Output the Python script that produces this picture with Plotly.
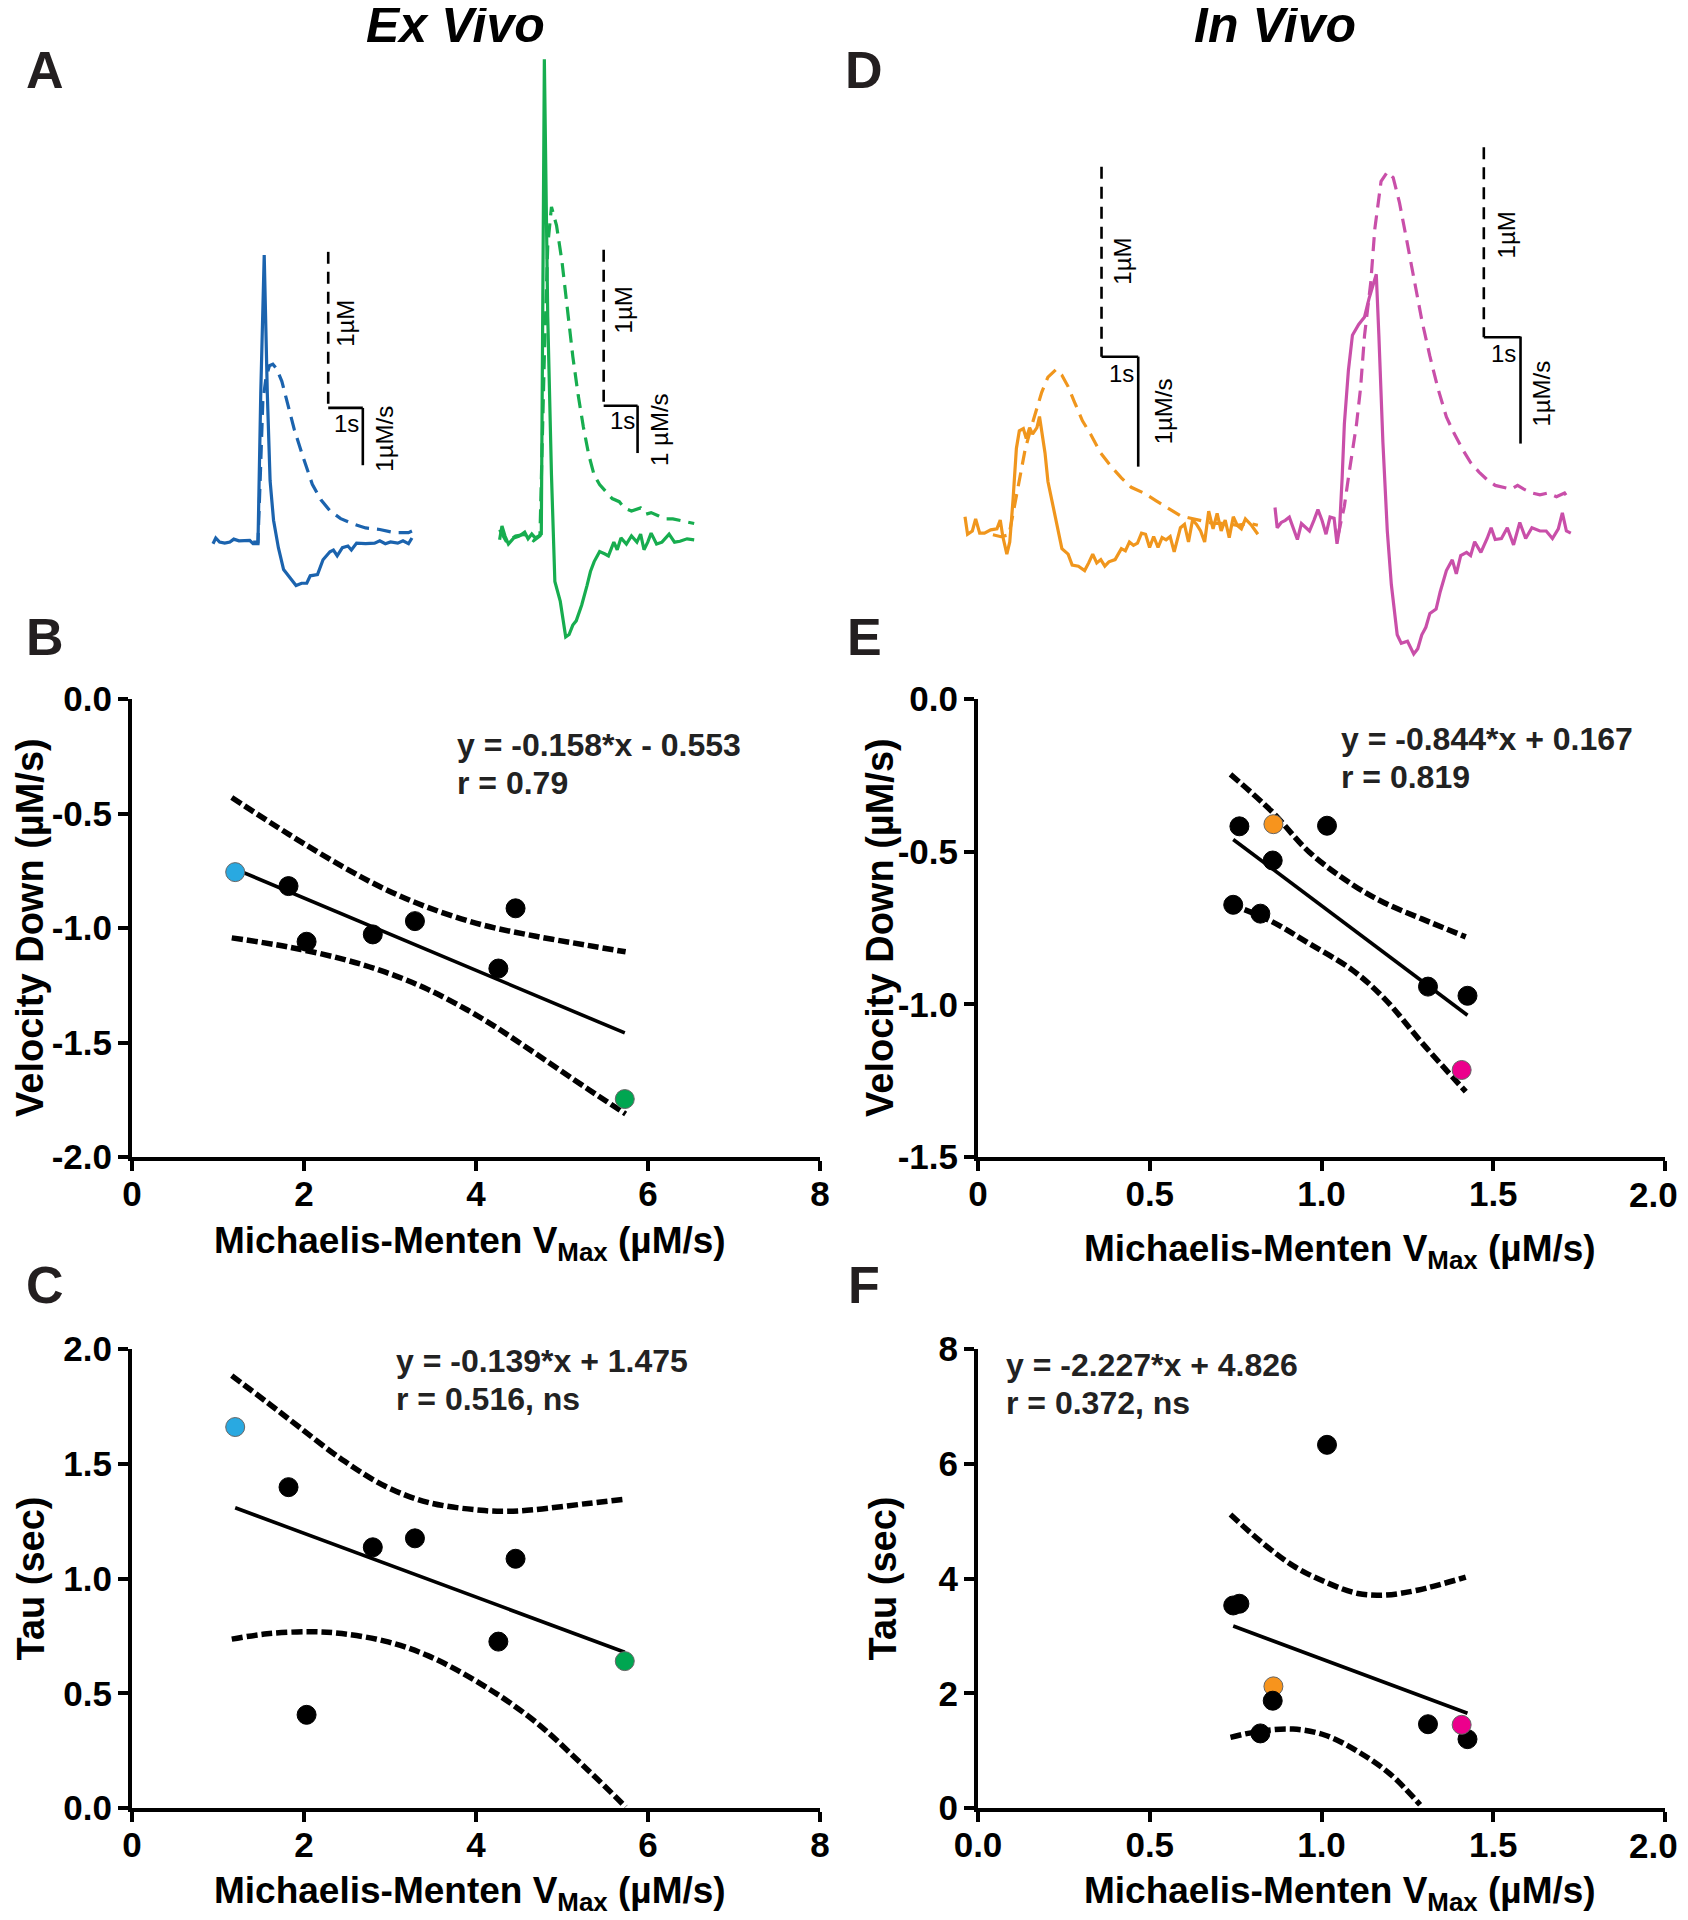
import plotly.graph_objects as go

W, H = 1688, 1920
OFF = 8  # the page places the figure 8 px in from the top-left corner
VIS_RIGHT = 1680  # right-most visible page pixel


def PX(x):
    return (x - OFF) / W


def PY(y):
    return 1 - (y - OFF) / H


# ======================= DATA =======================
# Ex vivo scatter (panels B, C)
exvivo_vmax = [1.20, 1.82, 2.03, 2.80, 3.29, 4.46, 4.26, 5.73]
exvivo_vdown = [-0.756, -0.817, -1.060, -1.028, -0.970, -0.914, -1.177, -1.747]
exvivo_tau = [1.660, 1.398, 0.406, 1.136, 1.175, 1.086, 0.725, 0.640]

# In vivo scatter (panels E, F)
invivo_vmax = [0.761, 0.860, 1.016, 0.858, 0.743, 0.822, 1.310, 1.425, 1.408]
invivo_vdown = [-0.417, -0.410, -0.415, -0.529, -0.674, -0.703, -0.942, -0.972, -1.215]
invivo_tau = [3.56, 2.12, 6.33, 1.87, 3.53, 1.30, 1.46, 1.20, 1.45]

# fits: slope, intercept, r, suffix
fit_B = (-0.158, -0.553, "0.79", "")
fit_C = (-0.139, 1.475, "0.516", ", ns")
fit_E = (-0.844, 0.167, "0.819", "")
fit_F = (-2.227, 4.826, "0.372", ", ns")

# 95% confidence bands
band_B_x = [1.16, 1.82, 2.44, 2.94, 3.44, 4.06, 4.68, 5.30, 5.74]
band_B_hi = [-0.430, -0.590, -0.730, -0.830, -0.910, -0.985, -1.035, -1.076, -1.104]
band_B_lo = [-1.043, -1.083, -1.135, -1.192, -1.268, -1.393, -1.545, -1.703, -1.812]

band_C_hi_x = [1.16, 1.57, 1.94, 2.44, 2.94, 3.44, 4.06, 4.37, 4.68, 5.30, 5.74]
band_C_hi = [1.884, 1.768, 1.661, 1.519, 1.403, 1.332, 1.297, 1.293, 1.300, 1.327, 1.346]
band_C_lo_x = [1.16, 1.57, 2.07, 2.44, 2.94, 3.44, 4.06, 4.68, 5.30, 5.74]
band_C_lo = [0.736, 0.759, 0.768, 0.760, 0.727, 0.664, 0.540, 0.379, 0.166, 0.005]

band_E_x = [0.735, 0.854, 0.964, 1.090, 1.184, 1.294, 1.420]
band_E_hi = [-0.247, -0.367, -0.501, -0.608, -0.668, -0.721, -0.779]
band_E_lo = [-0.672, -0.728, -0.801, -0.888, -0.982, -1.128, -1.286]

band_F_hi_x = [0.735, 0.822, 0.917, 1.011, 1.106, 1.184, 1.279, 1.420]
band_F_hi = [5.114, 4.651, 4.224, 3.939, 3.739, 3.711, 3.796, 4.024]
band_F_lo_x = [0.735, 0.822, 0.917, 1.011, 1.106, 1.200, 1.287]
band_F_lo = [1.232, 1.339, 1.375, 1.268, 0.983, 0.591, 0.057]

# tick labels
ticks_x_exvivo = [0, 2, 4, 6, 8]
ticks_x_exvivo_txt = ["0", "2", "4", "6", "8"]
ticks_x_E = [0, 0.5, 1.0, 1.5, 2.0]
ticks_x_E_txt = ["0", "0.5", "1.0", "1.5", "2.0"]
ticks_x_F_txt = ["0.0", "0.5", "1.0", "1.5", "2.0"]
ticks_y_B = [0.0, -0.5, -1.0, -1.5, -2.0]
ticks_y_B_txt = ["0.0", "-0.5", "-1.0", "-1.5", "-2.0"]
ticks_y_E = [0.0, -0.5, -1.0, -1.5]
ticks_y_E_txt = ["0.0", "-0.5", "-1.0", "-1.5"]
ticks_y_C = [0.0, 0.5, 1.0, 1.5, 2.0]
ticks_y_C_txt = ["0.0", "0.5", "1.0", "1.5", "2.0"]
ticks_y_F = [0, 2, 4, 6, 8]
ticks_y_F_txt = ["0", "2", "4", "6", "8"]

# ---- example traces: time (s), velocity (uM/s, solid), concentration (uM, dashed)
blue_t = [0.00, 0.08, 0.19, 0.34, 0.49, 0.60, 0.75, 0.91, 1.06, 1.16, 1.30, 1.38, 1.48, 1.57, 1.65,
          1.75, 1.89, 2.04, 2.20, 2.40, 2.56, 2.71, 2.81, 3.02, 3.18, 3.38, 3.48, 3.59, 3.74, 3.90,
          4.00, 4.15, 4.41, 4.67, 4.82, 4.98, 5.13, 5.34, 5.49, 5.65, 5.75]
blue_v = [-0.03, 0.07, 0.00, -0.02, 0.00, 0.05, 0.02, 0.02, 0.03, -0.03, -0.03, 2.59, 5.01, 2.59, 1.07,
          0.38, -0.10, -0.48, -0.60, -0.76, -0.72, -0.72, -0.59, -0.57, -0.31, -0.17, -0.14, -0.24, -0.10, -0.07,
          -0.14, -0.02, -0.03, -0.02, 0.02, -0.03, 0.00, -0.02, 0.02, -0.03, 0.07]
blue_ct = [1.16, 1.30, 1.37, 1.44, 1.53, 1.63, 1.73, 1.84, 1.99, 2.14, 2.35, 2.61, 2.87, 3.12, 3.38,
           3.69, 4.00, 4.41, 4.82, 5.24, 5.65, 5.75]
blue_c = [0.00, 0.00, 0.44, 0.90, 1.05, 1.13, 1.14, 1.11, 1.03, 0.90, 0.72, 0.54, 0.37, 0.27, 0.20,
          0.15, 0.12, 0.09, 0.08, 0.06, 0.06, 0.07]

green_t = [0.00, 0.07, 0.16, 0.26, 0.42, 0.58, 0.74, 0.84, 0.95, 1.05, 1.16, 1.23, 1.32, 1.42, 1.53,
           1.63, 1.79, 1.95, 2.05, 2.16, 2.26, 2.42, 2.58, 2.68, 2.79, 2.95, 3.11, 3.21, 3.37, 3.47,
           3.58, 3.74, 3.89, 4.05, 4.16, 4.26, 4.37, 4.47, 4.63, 4.79, 5.00, 5.16, 5.32, 5.53, 5.74]
green_v = [-0.08, 0.21, 0.00, -0.17, -0.04, 0.00, 0.08, -0.06, 0.04, -0.04, 0.00, 0.04, 10.06, 4.63, 1.29,
           -0.96, -1.38, -2.13, -2.08, -1.88, -1.79, -1.46, -1.04, -0.75, -0.54, -0.33, -0.38, -0.42, -0.13, -0.29,
           -0.04, -0.17, 0.00, -0.13, 0.04, -0.29, -0.13, 0.06, -0.17, -0.13, 0.04, -0.13, -0.11, -0.06, -0.08]
green_ct = [0.00, 0.21, 0.47, 0.74, 1.00, 1.19, 1.32, 1.42, 1.53, 1.68, 1.84, 2.00, 2.16, 2.32, 2.47,
            2.63, 2.79, 2.95, 3.11, 3.32, 3.53, 3.68, 3.89, 4.16, 4.32, 4.47, 4.68, 4.89, 5.11, 5.32,
            5.53, 5.74]
green_c = [0.04, -0.04, 0.00, 0.01, -0.03, 0.00, 1.15, 1.86, 2.11, 1.99, 1.76, 1.46, 1.15, 0.90, 0.70,
           0.52, 0.39, 0.33, 0.29, 0.24, 0.22, 0.18, 0.16, 0.18, 0.14, 0.15, 0.13, 0.11, 0.11, 0.10,
           0.09, 0.08]

orange_t = [0.00, 0.07, 0.20, 0.29, 0.40, 0.53, 0.70, 0.87, 0.96, 1.03, 1.14, 1.22, 1.31, 1.40, 1.48,
            1.59, 1.67, 1.76, 1.84, 1.96, 2.03, 2.09, 2.18, 2.26, 2.42, 2.64, 2.81, 2.92, 3.09, 3.26,
            3.37, 3.48, 3.59, 3.70, 3.81, 3.92, 4.09, 4.26, 4.37, 4.48, 4.59, 4.70, 4.81, 4.92, 5.03,
            5.14, 5.26, 5.37, 5.48, 5.59, 5.70, 5.87, 5.98, 6.09, 6.20, 6.31, 6.42, 6.53, 6.64, 6.76,
            6.87, 6.98, 7.09, 7.20, 7.31, 7.42, 7.53, 7.64, 7.81, 7.98]
orange_v = [0.13, -0.03, 0.00, 0.11, -0.02, -0.02, 0.01, 0.02, 0.10, -0.05, -0.21, -0.10, 0.29, 0.75, 0.91,
            0.93, 0.84, 0.94, 0.88, 0.94, 1.04, 0.91, 0.71, 0.45, 0.19, -0.16, -0.21, -0.31, -0.32, -0.36,
            -0.29, -0.21, -0.29, -0.26, -0.32, -0.28, -0.26, -0.16, -0.18, -0.10, -0.13, -0.11, -0.02, -0.03, -0.15,
            -0.05, -0.15, -0.06, -0.08, -0.05, -0.19, 0.03, 0.06, -0.10, 0.10, 0.06, 0.00, -0.10, 0.18, 0.02,
            0.16, 0.00, 0.10, -0.06, 0.13, 0.05, 0.02, 0.11, 0.05, -0.03]
orange_ct = [0.76, 0.98, 1.20, 1.31, 1.48, 1.64, 1.81, 1.98, 2.09, 2.26, 2.48, 2.64, 2.81, 2.98, 3.20,
             3.42, 3.70, 3.98, 4.26, 4.53, 4.87, 5.20, 5.53, 5.87, 6.09, 6.31, 6.53, 6.76, 7.09, 7.42,
             7.76, 7.98]
orange_c = [-0.02, -0.03, -0.02, 0.09, 0.28, 0.43, 0.55, 0.66, 0.73, 0.81, 0.85, 0.82, 0.76, 0.68, 0.58,
            0.51, 0.41, 0.34, 0.28, 0.23, 0.20, 0.16, 0.12, 0.08, 0.07, 0.06, 0.05, 0.04, 0.04, 0.03,
            0.04, 0.03]

magenta_t = [0.00, 0.06, 0.17, 0.28, 0.39, 0.50, 0.61, 0.72, 0.83, 0.94, 1.06, 1.17, 1.28, 1.39, 1.50,
             1.61, 1.69, 1.76, 1.83, 1.89, 2.00, 2.11, 2.28, 2.44, 2.56, 2.67, 2.76, 2.83, 2.94, 3.06,
             3.17, 3.33, 3.44, 3.61, 3.78, 3.89, 4.00, 4.11, 4.22, 4.39, 4.50, 4.67, 4.83, 4.94, 5.06,
             5.22, 5.33, 5.44, 5.61, 5.78, 5.89, 6.00, 6.17, 6.33, 6.50, 6.67, 6.83, 7.00, 7.22, 7.39,
             7.56, 7.72, 7.83, 7.94, 8.06]
magenta_v = [0.22, 0.03, 0.08, 0.10, 0.13, 0.03, -0.08, 0.07, 0.03, 0.00, 0.10, 0.20, 0.10, -0.03, 0.13,
             0.12, -0.12, 0.03, 0.50, 1.00, 1.50, 1.83, 1.93, 2.00, 2.17, 2.30, 2.40, 1.83, 0.83, 0.00,
             -0.50, -0.97, -1.05, -1.03, -1.15, -1.10, -0.97, -0.90, -0.77, -0.73, -0.57, -0.37, -0.27, -0.40, -0.23,
             -0.20, -0.23, -0.10, -0.20, -0.07, 0.03, -0.08, -0.07, 0.03, -0.13, 0.08, -0.07, 0.03, 0.00, 0.00,
             -0.07, 0.02, 0.17, 0.00, -0.02]
magenta_ct = [1.72, 1.89, 2.00, 2.11, 2.22, 2.33, 2.44, 2.61, 2.72, 2.89, 3.06, 3.22, 3.39, 3.56, 3.78,
              4.00, 4.22, 4.44, 4.67, 4.89, 5.11, 5.33, 5.56, 5.78, 6.00, 6.22, 6.44, 6.61, 6.78, 7.00,
              7.22, 7.44, 7.67, 7.89, 8.00]
magenta_c = [-0.02, 0.13, 0.28, 0.41, 0.56, 0.75, 1.03, 1.31, 1.59, 1.84, 1.89, 1.86, 1.73, 1.56, 1.33,
             1.11, 0.92, 0.75, 0.60, 0.51, 0.43, 0.36, 0.31, 0.27, 0.24, 0.23, 0.22, 0.24, 0.22, 0.20,
             0.19, 0.20, 0.18, 0.20, 0.17]

# scale bars: (time of dashed bar, conc at bar bottom, vel at bar top on velocity axis)
bars_blue = (3.33, 0.86, 2.34)
bars_green = (3.07, 0.835, 2.75)
bars_orange = (3.72, 0.917, 1.585)
bars_magenta = (5.69, 1.02, 1.817)

# ======================= STYLE =======================
FONT = "Liberation Sans, Arial, Helvetica, sans-serif"
C_BLUE = "#1B63AE"
C_GREEN = "#17AD4F"
C_ORANGE = "#F0961D"
C_MAGENTA = "#C94FA9"
M_CYAN = "#29A9E1"
M_GREEN = "#00A651"
M_ORANGE = "#F7941D"
M_MAGENTA = "#EC008C"
exvivo_highlight = {0: M_CYAN, 7: M_GREEN}
invivo_highlight = {1: M_ORANGE, 8: M_MAGENTA}
TICK_FONT = dict(family=FONT, size=35, color="black", weight="bold")

fig = go.Figure()
layout = {}
annotations = []

# ------------- scatter panels -------------
panels = [
    dict(i=1, xd=(132, 820), yd=(699, 1157), xr=[0, 8], yr=[-2, 0],
         x=exvivo_vmax, y=exvivo_vdown, hl=exvivo_highlight, fit=fit_B,
         bands=[(band_B_x, band_B_hi), (band_B_x, band_B_lo)],
         xt=(ticks_x_exvivo, ticks_x_exvivo_txt), yt=(ticks_y_B, ticks_y_B_txt),
         eq=(455, 745), ytitle="Velocity Down (µM/s)", ytx=30, xtitle=(470, 1243), edge_tick=False),
    dict(i=2, xd=(132, 820), yd=(1349, 1808), xr=[0, 8], yr=[0, 2],
         x=exvivo_vmax, y=exvivo_tau, hl=exvivo_highlight, fit=fit_C,
         bands=[(band_C_hi_x, band_C_hi), (band_C_lo_x, band_C_lo)],
         xt=(ticks_x_exvivo, ticks_x_exvivo_txt), yt=(ticks_y_C, ticks_y_C_txt),
         eq=(394, 1361), ytitle="Tau (sec)", ytx=30, xtitle=(470, 1893), edge_tick=False),
    dict(i=3, xd=(978, 1665), yd=(699, 1157), xr=[0, 2], yr=[-1.5, 0],
         x=invivo_vmax, y=invivo_vdown, hl=invivo_highlight, fit=fit_E,
         bands=[(band_E_x, band_E_hi), (band_E_x, band_E_lo)],
         xt=(ticks_x_E, ticks_x_E_txt), yt=(ticks_y_E, ticks_y_E_txt),
         eq=(1339, 739), ytitle="Velocity Down (µM/s)", ytx=880, xtitle=(1340, 1251), edge_tick=True),
    dict(i=4, xd=(978, 1665), yd=(1349, 1808), xr=[0, 2], yr=[0, 8],
         x=invivo_vmax, y=invivo_tau, hl=invivo_highlight, fit=fit_F,
         bands=[(band_F_hi_x, band_F_hi), (band_F_lo_x, band_F_lo)],
         xt=(ticks_x_E, ticks_x_F_txt), yt=(ticks_y_F, ticks_y_F_txt),
         eq=(1004, 1365), ytitle="Tau (sec)", ytx=882, xtitle=(1340, 1893), edge_tick=True),
]

for p in panels:
    i = p["i"]
    xa = "x" if i == 1 else f"x{i}"
    ya = "y" if i == 1 else f"y{i}"
    for bx, by in p["bands"]:
        fig.add_trace(go.Scatter(x=bx, y=by, xaxis=xa, yaxis=ya, mode="lines",
                                 line=dict(color="black", width=5.5, dash="11px,4px", shape="spline"),
                                 hoverinfo="skip", showlegend=False))
    slope, icpt, r, suf = p["fit"]
    x0, x1 = min(p["x"]), max(p["x"])
    fig.add_trace(go.Scatter(x=[x0, x1], y=[slope * x0 + icpt, slope * x1 + icpt],
                             xaxis=xa, yaxis=ya, mode="lines",
                             line=dict(color="black", width=3.6), showlegend=False))
    cols = [p["hl"].get(k, "black") for k in range(len(p["x"]))]
    lcols = ["#666666" if k in p["hl"] else "black" for k in range(len(p["x"]))]
    fig.add_trace(go.Scatter(x=p["x"], y=p["y"], xaxis=xa, yaxis=ya, mode="markers",
                             marker=dict(size=19, color=cols, line=dict(color=lcols, width=1)),
                             showlegend=False, cliponaxis=False))
    axis_common = dict(showline=True, linewidth=4, linecolor="black", ticks="outside",
                       ticklen=10, tickwidth=4, tickcolor="black", showgrid=False, zeroline=False,
                       automargin=False, tickfont=TICK_FONT)
    xtv, xtt = p["xt"]
    xtt_drawn = list(xtt)
    if p["edge_tick"]:
        # last label sits at the page edge: draw it right-aligned so it stays fully visible
        xtt_drawn[-1] = ""
        annotations.append(dict(text=xtt[-1], xref="paper", yref="paper", x=PX(VIS_RIGHT),
                                y=PY(p["yd"][1] + 37), xanchor="right", yanchor="middle",
                                showarrow=False, font=TICK_FONT))
    layout["xaxis" if i == 1 else f"xaxis{i}"] = dict(
        domain=[PX(p["xd"][0]), PX(p["xd"][1])], range=p["xr"], anchor=ya,
        tickmode="array", tickvals=xtv, ticktext=xtt_drawn, ticklabelstandoff=-7,
        **axis_common)
    layout["yaxis" if i == 1 else f"yaxis{i}"] = dict(
        domain=[PY(p["yd"][1]), PY(p["yd"][0])], range=p["yr"], anchor=xa,
        tickmode="array", tickvals=p["yt"][0], ticktext=p["yt"][1], ticklabelstandoff=-1,
        **axis_common)
    sign = "-" if icpt < 0 else "+"
    eq1 = f"y = {slope:.3f}*x {sign} {abs(icpt):.3f}"
    eq2 = f"r = {r}{suf}"
    for k, t in enumerate([eq1, eq2]):
        annotations.append(dict(text=t, xref="paper", yref="paper", x=PX(p["eq"][0]),
                                y=PY(p["eq"][1] + 38 * k), xanchor="left", yanchor="middle",
                                showarrow=False,
                                font=dict(family=FONT, size=32, color="#222222", weight="bold")))
    yc = (p["yd"][0] + p["yd"][1]) / 2
    annotations.append(dict(text=p["ytitle"], xref="paper", yref="paper", x=PX(p["ytx"]),
                            y=PY(yc), textangle=-90, xanchor="center", yanchor="middle",
                            showarrow=False,
                            font=dict(family=FONT, size=38, color="black", weight="bold")))
    annotations.append(dict(text="Michaelis-Menten V<sub>Max</sub> (µM/s)", xref="paper", yref="paper",
                            x=PX(p["xtitle"][0]), y=PY(p["xtitle"][1]), xanchor="center",
                            yanchor="middle", showarrow=False,
                            font=dict(family=FONT, size=37, color="black", weight="bold")))

# ------------- trace panels -------------
tpanels = [
    dict(ci=5, box=(195, 30, 480, 650), org=(213, 542), pps=34.6, ppc=156, ppv=57.3,
         t=blue_t, v=blue_v, ct=blue_ct, c=blue_c, col=C_BLUE, bars=bars_blue,
         lab=((17, 1.40), (3.85, -16), (22, 1.80)), vlab="1µM/s"),
    dict(ci=7, box=(480, 30, 720, 660), org=(499.6, 536), pps=33.9, ppc=156, ppv=47.4,
         t=green_t, v=green_v, ct=green_ct, c=green_c, col=C_GREEN, bars=bars_green,
         lab=((20, 1.45), (3.62, -15), (22, 2.25)), vlab="1 µM/s"),
    dict(ci=9, box=(950, 100, 1265, 660), org=(965, 531), pps=36.7, ppc=190, ppv=110,
         t=orange_t, v=orange_v, ct=orange_ct, c=orange_c, col=C_ORANGE, bars=bars_orange,
         lab=((21, 1.42), (4.26, -17), (25, 1.09)), vlab="1µM/s"),
    dict(ci=11, box=(1265, 100, 1600, 690), org=(1275, 531), pps=36.7, ppc=190, ppv=107,
         t=magenta_t, v=magenta_v, ct=magenta_ct, c=magenta_c, col=C_MAGENTA, bars=bars_magenta,
         lab=((23, 1.56), (6.22, -16), (21, 1.28)), vlab="1µM/s"),
]

for tp in tpanels:
    ci = tp["ci"]
    vi = ci + 1
    L, T, R, B = tp["box"]
    ox, oy = tp["org"]
    xr = [(L - ox) / tp["pps"], (R - ox) / tp["pps"]]
    cr = [(oy - B) / tp["ppc"], (oy - T) / tp["ppc"]]
    vr = [(oy - B) / tp["ppv"], (oy - T) / tp["ppv"]]
    dom_x = [PX(L), PX(R)]
    dom_y = [PY(B), PY(T)]
    hidden = dict(visible=False, showgrid=False, zeroline=False, fixedrange=True, automargin=False)
    layout[f"xaxis{ci}"] = dict(domain=dom_x, range=xr, anchor=f"y{ci}", **hidden)
    layout[f"yaxis{ci}"] = dict(domain=dom_y, range=cr, anchor=f"x{ci}", **hidden)
    layout[f"xaxis{vi}"] = dict(domain=dom_x, range=xr, anchor=f"y{vi}", **hidden)
    layout[f"yaxis{vi}"] = dict(domain=dom_y, range=vr, anchor=f"x{vi}", **hidden)
    fig.add_trace(go.Scatter(x=tp["ct"], y=tp["c"], xaxis=f"x{ci}", yaxis=f"y{ci}", mode="lines",
                             line=dict(color=tp["col"], width=3.2, dash="14px,8px"),
                             showlegend=False))
    fig.add_trace(go.Scatter(x=tp["t"], y=tp["v"], xaxis=f"x{vi}", yaxis=f"y{vi}", mode="lines",
                             line=dict(color=tp["col"], width=3.2), showlegend=False))
    tb, cb, vb = tp["bars"]
    fig.add_trace(go.Scatter(x=[tb, tb], y=[cb + 1, cb], xaxis=f"x{ci}", yaxis=f"y{ci}", mode="lines",
                             line=dict(color="black", width=2.6, dash="12px,8px"), showlegend=False))
    fig.add_trace(go.Scatter(x=[tb, tb + 1], y=[cb, cb], xaxis=f"x{ci}", yaxis=f"y{ci}", mode="lines",
                             line=dict(color="black", width=2.6), showlegend=False))
    fig.add_trace(go.Scatter(x=[tb + 1, tb + 1], y=[vb, vb - 1], xaxis=f"x{vi}", yaxis=f"y{vi}",
                             mode="lines", line=dict(color="black", width=2.6), showlegend=False))
    (cx_s, cy), (sx, sy), (vx_s, vy) = tp["lab"]
    sfont = dict(family=FONT, size=24, color="black")
    annotations.append(dict(text="1µM", xref=f"x{ci}", yref=f"y{ci}", x=tb, y=cy, xshift=cx_s,
                            textangle=-90, showarrow=False, font=sfont))
    annotations.append(dict(text="1s", xref=f"x{ci}", yref=f"y{ci}", x=sx, y=cb, yshift=sy,
                            showarrow=False, font=sfont))
    annotations.append(dict(text=tp["vlab"], xref=f"x{vi}", yref=f"y{vi}", x=tb + 1, y=vy,
                            xshift=vx_s, textangle=-90, showarrow=False, font=sfont))

# ------------- titles & panel letters -------------
for txt, x in [("Ex Vivo", 455), ("In Vivo", 1275)]:
    annotations.append(dict(text=f"<b><i>{txt}</i></b>", xref="paper", yref="paper", x=PX(x), y=PY(25),
                            xanchor="center", yanchor="middle", showarrow=False,
                            font=dict(family=FONT, size=50, color="black")))
for txt, x, y in [("A", 45, 70), ("D", 864, 70), ("B", 45, 637), ("E", 864, 637),
                  ("C", 45, 1285), ("F", 864, 1285)]:
    annotations.append(dict(text=f"<b>{txt}</b>", xref="paper", yref="paper", x=PX(x), y=PY(y),
                            xanchor="center", yanchor="middle", showarrow=False,
                            font=dict(family=FONT, size=52, color="#231F20")))

fig.update_layout(template="none", width=W, height=H,
                  margin=dict(l=0, r=0, t=0, b=0, pad=0, autoexpand=False),
                  paper_bgcolor="white", plot_bgcolor="rgba(0,0,0,0)",
                  showlegend=False, annotations=annotations, **layout)

fig.write_html("out.html")
